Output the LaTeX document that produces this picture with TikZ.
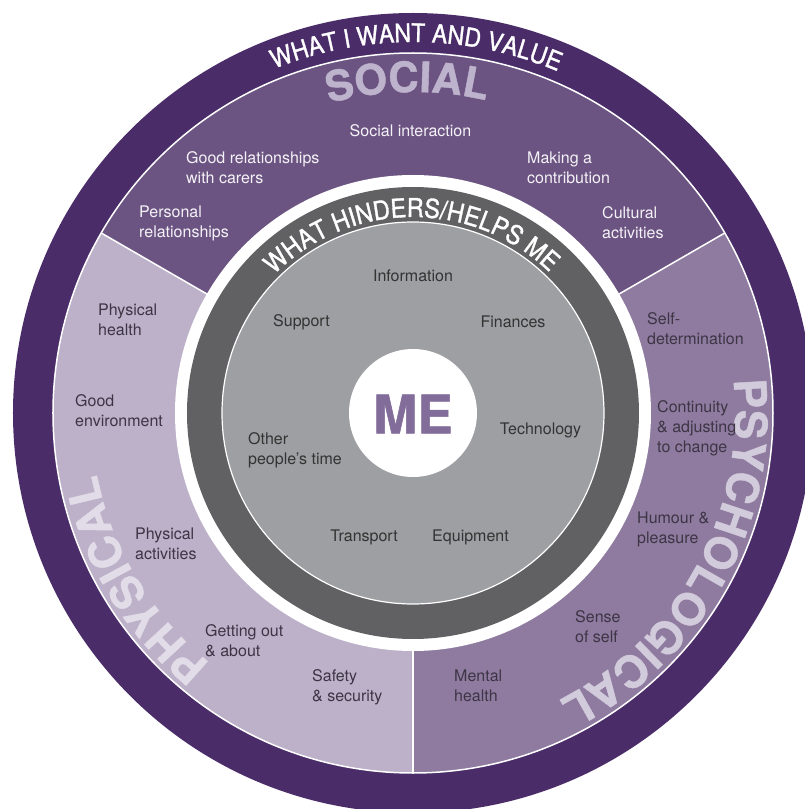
\documentclass[tikz,border=0pt]{standalone}
\usepackage{fontspec}
\setmainfont{TeX Gyre Heros}
\newfontfamily\outertitle{texgyreheros-regular.otf}[FakeStretch=0.9, FakeBold=1.3]
\newfontfamily\innertitle{texgyreheros-regular.otf}[FakeStretch=0.9, FakeBold=1.3]
\newfontfamily\heavyfont{texgyreheros-bold.otf}[FakeBold=1]
\usetikzlibrary{decorations.text}
\definecolor{outerc}{HTML}{4A2C69}
\definecolor{socialc}{HTML}{6C5482}
\definecolor{psychc}{HTML}{8F7BA0}
\definecolor{physc}{HTML}{BCB1C9}
\definecolor{ringc}{HTML}{616163}
\definecolor{diskc}{HTML}{9E9FA2}
\definecolor{mec}{HTML}{826C99}
\definecolor{sociallab}{HTML}{BEB3CC}
\definecolor{psychlab}{HTML}{D2CBDC}
\definecolor{physlab}{HTML}{E1DCE7}
\definecolor{innertxt}{HTML}{333333}
\definecolor{purpletxt}{HTML}{3D3545}
\definecolor{socialtxt}{HTML}{F4F2F7}
\begin{document}
\begin{tikzpicture}[x=1pt,y=1pt,
  item/.style={anchor=west, align=left, inner sep=0pt, font=\fontsize{16}{20}\selectfont},
  citem/.style={anchor=center, align=center, inner sep=0pt, font=\fontsize{16}{20}\selectfont},
  onsocial/.style={text=socialtxt},
  onpurple/.style={text=purpletxt},
  ongray/.style={text=innertxt},
  sepline/.style={white, line width=1.5pt}]
\useasboundingbox (-413,-396) rectangle (392,413);
\clip (-413,-396) rectangle (392,413);
\fill[white] (-413,-396) rectangle (392,413);
% rings and sectors
\fill[outerc] (0,0) circle[radius=400];
\fill[physc] (0,0) -- (150:360) arc[start angle=150, end angle=270, radius=360] -- cycle;
\fill[socialc] (0,0) -- (30:360) arc[start angle=30, end angle=150, radius=360] -- cycle;
\fill[psychc] (0,0) -- (-90:360) arc[start angle=-90, end angle=30, radius=360] -- cycle;
\draw[sepline] (0,0) circle[radius=360];
\foreach \a in {30,150,270} \draw[sepline] (\a:236) -- (\a:360);
\fill[white] (0,0) circle[radius=238];
\fill[ringc] (0,0) circle[radius=226];
\fill[diskc] (0,0) circle[radius=191];
\draw[white, line width=1.2pt] (0,0) circle[radius=191];
\fill[white] (0,0) circle[radius=64];
% curved titles
\path[decorate, decoration={text along path, text align=center, text color=white,
  text={|\outertitle\fontsize{25.5}{25.5}\selectfont|WHAT I WANT AND VALUE}}]
  (179.5:371) arc[start angle=179.5, end angle=-0.5, radius=371];
\path[decorate, decoration={text along path, text align=center, text color=white,
  text={|\innertitle\fontsize{26}{26}\selectfont|WHAT HINDERS/HELPS ME}}]
  (180.5:196) arc[start angle=180.5, end angle=0.5, radius=196];
\path[decorate, decoration={text along path, text align=center, text color=sociallab,
  text={|\heavyfont\fontsize{42}{42}\selectfont|SOCIAL}}]
  (181:321) arc[start angle=181, end angle=1, radius=321];
\path[decorate, decoration={text along path, text align=center, text color=psychlab,
  text={|\heavyfont\fontsize{44.5}{44.5}\selectfont|PSYCHOLOGICAL}}]
  (61.4:322) arc[start angle=61.4, end angle=-118.6, radius=322];
\path[decorate, decoration={text along path, text align=center, text color=physlab,
  text={|\heavyfont\fontsize{44.5}{44.5}\selectfont|PHYSICAL}}]
  (301:322) arc[start angle=301, end angle=121, radius=322];
% centre
\node[font=\heavyfont\fontsize{53}{53}\selectfont, text=mec, inner sep=0pt] (me) at (0,-1) {ME};
% inner items
\node[citem, ongray] (info) at (0,137) {Information};
\node[citem, ongray] (support) at (-111.5,91) {Support};
\node[citem, ongray] (fin) at (100,91) {Finances};
\node[citem, ongray] (tech) at (127.5,-17) {Technology};
\node[item, ongray] (other) at (-165,-37) {Other\\people’s time};
\node[citem, ongray] (transport) at (-49,-124) {Transport};
\node[citem, ongray] (equip) at (57.5,-124) {Equipment};
% social
\node[citem, onsocial] (socint) at (-2.5,282) {Social interaction};
\node[item, onsocial] (goodrel) at (-227,245) {Good relationships\\with carers};
\node[item, onsocial] (making) at (114,245) {Making a\\contribution};
\node[item, onsocial] (personal) at (-274,190) {Personal\\relationships};
\node[item, onsocial] (cultural) at (189,190) {Cultural\\activities};
% psychological
\node[item, onpurple] (selfdet) at (234,84) {Self-\\determination};
\node[item, onpurple] (contin) at (244,-15) {Continuity\\\& adjusting\\to change};
\node[item, onpurple] (humour) at (224,-116) {Humour \&\\pleasure};
\node[item, onpurple] (sense) at (162,-214) {Sense\\of self};
\node[item, onpurple] (mental) at (41,-273) {Mental\\health};
% physical
\node[item, onpurple] (physhealth) at (-315,93) {Physical\\health};
\node[item, onpurple] (goodenv) at (-338,2) {Good\\environment};
\node[item, onpurple] (physact) at (-278,-131) {Physical\\activities};
\node[item, onpurple] (getting) at (-208,-227.5) {Getting out\\\& about};
\node[item, onpurple] (safety) at (-101,-274) {Safety\\\& security};
\end{tikzpicture}
\end{document}
